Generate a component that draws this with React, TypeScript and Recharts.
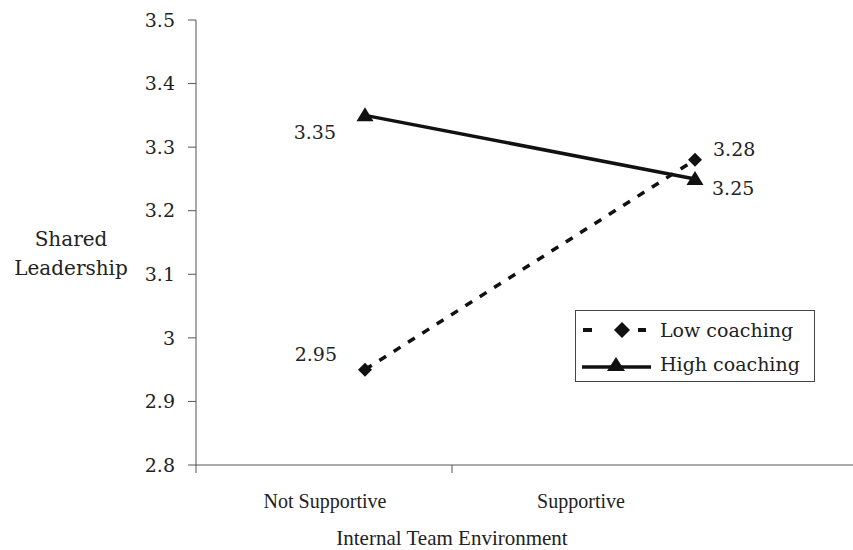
import React from 'react';
import { LineChart, Line, XAxis, YAxis, Legend, LabelList, Label } from 'recharts';

const environments = ['Not Supportive', 'Supportive'];
const lowCoaching = [2.95, 3.28];
const highCoaching = [3.35, 3.25];
const yTicks = [2.8, 2.9, 3, 3.1, 3.2, 3.3, 3.4, 3.5];
const frameTicks = [0, 0.5];

const data = environments.map((env, i) => ({
  env,
  low: lowCoaching[i],
  high: highCoaching[i],
}));

const ink = '#111';
const axisInk = '#555';
const wideSerif = '"DejaVu Serif", serif';
const narrowSerif = '"Liberation Serif", serif';

// where each value label sits relative to its point
const lowLabelPos = [
  { dx: -28, dy: -15, anchor: 'end' },
  { dx: 18, dy: -11, anchor: 'start' },
];
const highLabelPos = [
  { dx: -29, dy: 17, anchor: 'end' },
  { dx: 17, dy: 9, anchor: 'start' },
];

const Diamond = ({ cx, cy }) => (
  <polygon
    points={`${cx},${cy - 7} ${cx + 7},${cy} ${cx},${cy + 7} ${cx - 7},${cy}`}
    fill={ink}
  />
);

const Triangle = ({ cx, cy }) => (
  <polygon
    points={`${cx},${cy - 8} ${cx + 8.5},${cy + 6} ${cx - 8.5},${cy + 6}`}
    fill={ink}
  />
);

const valueLabel = (pos) => (props) => {
  const { x, y, value, index } = props;
  const p = pos[index];
  return (
    <text
      x={x + p.dx}
      y={y + p.dy}
      dy="0.36em"
      textAnchor={p.anchor}
      fontFamily={wideSerif}
      fontSize={19}
      fill="#222"
    >
      {value}
    </text>
  );
};

const LegendBox = () => (
  <div
    style={{
      width: 240,
      height: 72,
      boxSizing: 'border-box',
      border: '1px solid #444',
      paddingTop: 2,
      fontFamily: wideSerif,
      fontSize: 19,
      color: '#222',
      background: '#fff',
    }}
  >
    <div style={{ display: 'flex', alignItems: 'center', height: 34 }}>
      <svg width={78} height={20} style={{ marginLeft: 6 }}>
        <rect x={1} y={8} width={9} height={4} fill={ink} />
        <polygon points="40,2 48,10 40,18 32,10" fill={ink} />
        <rect x={56} y={8} width={8} height={4} fill={ink} />
      </svg>
      <span>Low coaching</span>
    </div>
    <div style={{ display: 'flex', alignItems: 'center', height: 34 }}>
      <svg width={78} height={20} style={{ marginLeft: 6 }}>
        <line x1={0} y1={13} x2={69} y2={13} stroke={ink} strokeWidth={3.5} />
        <polygon points="34,3 43,17 25,17" fill={ink} />
      </svg>
      <span>High coaching</span>
    </div>
  </div>
);

export default function App() {
  return (
    <div style={{ position: 'absolute', left: 0, top: 0, background: '#fff' }}>
      <LineChart
        width={853}
        height={550}
        data={data}
        margin={{ top: 20, right: 0, bottom: 0, left: 0 }}
      >
        <XAxis
          xAxisId="frame"
          type="number"
          domain={[0, 1]}
          ticks={frameTicks}
          allowDataOverflow
          height={1}
          padding={{ left: 0, right: 145 }}
          axisLine={{ stroke: axisInk }}
          tickLine={{ stroke: axisInk }}
          tickSize={8}
          tick={() => <g />}
        />
        <XAxis
          xAxisId="labels"
          dataKey="env"
          height={84}
          padding={{ left: 129, right: 272 }}
          axisLine={false}
          tickLine={false}
          tickSize={0}
          tickMargin={28}
          tick={{ fontFamily: narrowSerif, fontSize: 20, fill: '#222' }}
        >
          <Label
            content={() => (
              <text
                x={452}
                y={545}
                textAnchor="middle"
                fontFamily={narrowSerif}
                fontSize={21}
                fill="#222"
              >
                Internal Team Environment
              </text>
            )}
          />
        </XAxis>
        <XAxis
          xAxisId="data"
          dataKey="env"
          hide
          height={0}
          padding={{ left: 169, right: 158 }}
        />
        <YAxis
          width={196}
          domain={[2.8, 3.5]}
          ticks={yTicks}
          allowDataOverflow
          axisLine={{ stroke: axisInk }}
          tickLine={{ stroke: axisInk }}
          tickSize={8}
          tickMargin={13}
          tick={{ fontFamily: wideSerif, fontSize: 19, fill: '#222' }}
        >
          <Label
            content={() => (
              <text textAnchor="middle" fontFamily={wideSerif} fontSize={20} fill="#222">
                <tspan x={71} y={246}>Shared</tspan>
                <tspan x={71} y={275}>Leadership</tspan>
              </text>
            )}
          />
        </YAxis>
        <Legend
          layout="horizontal"
          verticalAlign="middle"
          align="center"
          content={() => <LegendBox />}
          wrapperStyle={{ position: 'absolute', left: 575, top: 310, width: 240 }}
        />
        <Line
          xAxisId="data"
          dataKey="low"
          name="Low coaching"
          stroke={ink}
          strokeWidth={3.5}
          strokeDasharray="8 9"
          dot={(p) => <Diamond key={`low-${p.index}`} cx={p.cx} cy={p.cy} />}
          isAnimationActive={false}
        >
          <LabelList dataKey="low" content={valueLabel(lowLabelPos)} />
        </Line>
        <Line
          xAxisId="data"
          dataKey="high"
          name="High coaching"
          stroke={ink}
          strokeWidth={3.5}
          dot={(p) => <Triangle key={`high-${p.index}`} cx={p.cx} cy={p.cy} />}
          isAnimationActive={false}
        >
          <LabelList dataKey="high" content={valueLabel(highLabelPos)} />
        </Line>
      </LineChart>
    </div>
  );
}
